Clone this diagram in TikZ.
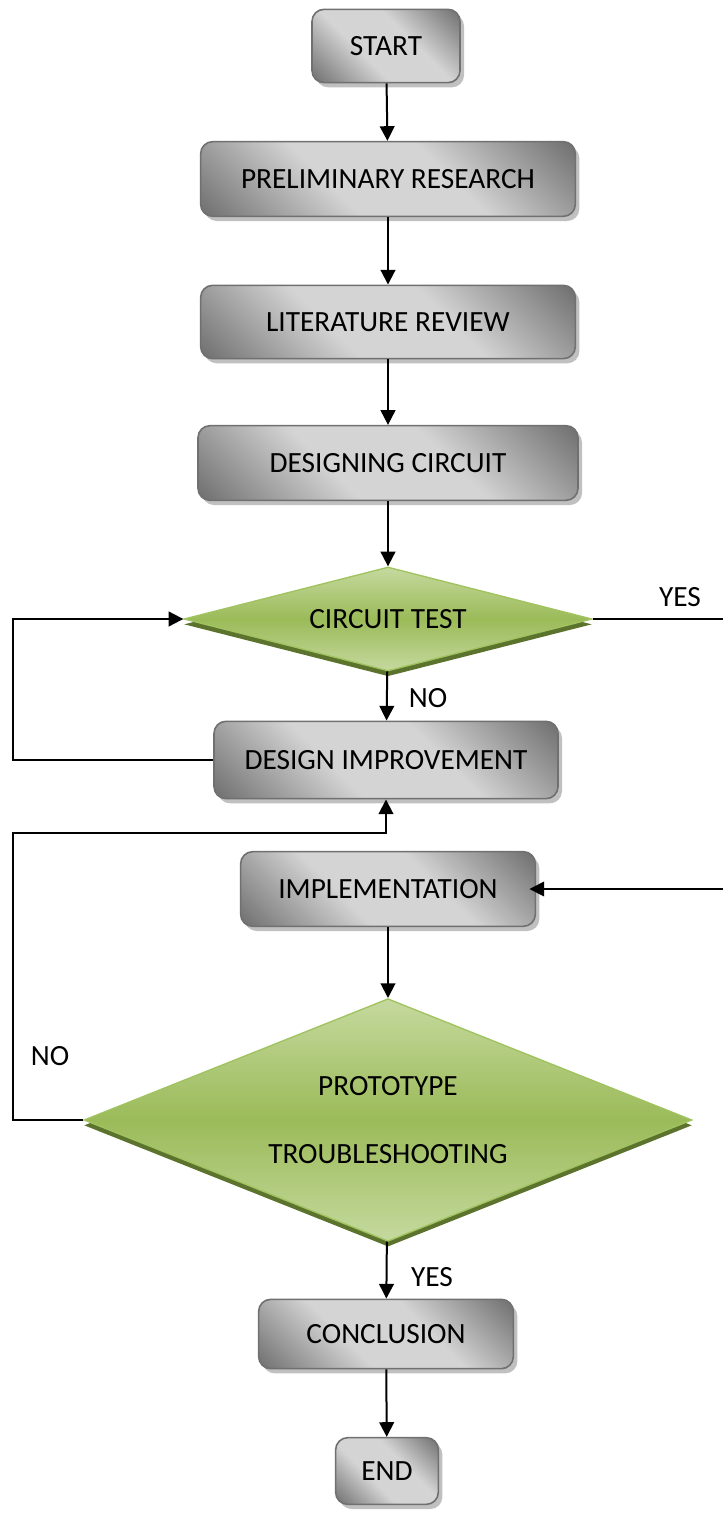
\documentclass[tikz,border=0pt]{standalone}
\usepackage{fontspec}
\setmainfont{Carlito}
\usetikzlibrary{shapes.geometric,shadows,arrows.meta,calc}
\definecolor{boxdark}{RGB}{100,100,100}
\definecolor{boxlight}{RGB}{212,212,212}
\definecolor{boxline}{RGB}{112,112,112}
\definecolor{boxshadow}{RGB}{192,192,192}
\definecolor{leafdark}{RGB}{155,187,89}
\definecolor{leaflight}{RGB}{197,217,158}
\definecolor{leafline}{RGB}{160,195,95}
\definecolor{leafshadow}{RGB}{92,115,45}
\pgfdeclarehorizontalshading{steel}{100bp}{color(0bp)=(boxdark); color(12bp)=(boxdark);
  color(40bp)=(boxlight); color(60bp)=(boxlight); color(88bp)=(boxdark); color(100bp)=(boxdark)}
\tikzset{
  style process/.style={
    rectangle, rounded corners=9pt,
    draw=boxline, line width=1.2pt,
    shading=steel, shading angle=45,
    drop shadow={shadow xshift=3pt, shadow yshift=-3.5pt, fill=boxshadow, opacity=1},
    font=\fontsize{22}{26}\selectfont, inner sep=0pt,
    #1
  },
  style decision/.style={
    diamond, inner sep=0pt, aspect=3,
    draw=leafline, line width=1pt,
    top color=leaflight, bottom color=leaflight, middle color=leafdark,
    drop shadow={shadow xshift=0pt, shadow yshift=-4pt, fill=leafshadow, opacity=1},
    font=\fontsize{22}{26}\selectfont,
    #1
  },
  flow/.style={line width=1.5pt, -{Triangle[length=11pt,width=11pt]}},
  tag/.style={font=\fontsize{22}{26}\selectfont, inner sep=0pt}
}
\begin{document}
\begin{tikzpicture}[x=0.75pt,y=0.75pt,yscale=-1,xscale=1]
\useasboundingbox (0,0) rectangle (723,1513);
\clip (0,0) rectangle (723,1513);

%Shape: process boxes
\node [style process={minimum width=111pt, minimum height=55pt}] (start) at (386,46) {START};
\node [style process={minimum width=281pt, minimum height=56pt}] (prelim) at (388,179) {PRELIMINARY RESEARCH};
\node [style process={minimum width=281pt, minimum height=55pt}] (review) at (388,322) {LITERATURE REVIEW};
\node [style process={minimum width=285pt, minimum height=56pt}] (design) at (388,463) {DESIGNING CIRCUIT};
%Shape: first decision
\node [style decision={minimum width=306pt, minimum height=78pt}] (test) at (388,619) {CIRCUIT TEST};
\node [style process={minimum width=258pt, minimum height=58pt}] (improve) at (386,760) {DESIGN IMPROVEMENT};
\node [style process={minimum width=221pt, minimum height=56pt}] (implement) at (388,889) {IMPLEMENTATION};
%Shape: second decision
\node [style decision={minimum width=456pt, minimum height=182pt}, align=center] (proto) at (388,1120)
  {PROTOTYPE\\[25pt]TROUBLESHOOTING};
\node [style process={minimum width=191pt, minimum height=52pt}] (conclude) at (386,1334) {CONCLUSION};
\node [style process={minimum width=77pt, minimum height=50pt}] (finish) at (387,1471) {END};

%Rails for the loops
\coordinate (left rail) at (13,0);
\coordinate (right rail) at (740,0);

%Straight connectors
\draw [flow] (start) -- (prelim);
\draw [flow] (prelim) -- (review);
\draw [flow] (review) -- (design);
\draw [flow] (design) -- (test);
\draw [flow] (test) -- (improve);
\draw [flow] (implement) -- (proto);
\draw [flow] (proto) -- (conclude);
\draw [flow] (conclude) -- (finish);

%Loop lines
\draw [flow] (improve.west) -- (improve.west -| left rail) |- (test.west);
\draw [flow] (proto.west) -- (proto.west -| left rail) |- ($(improve.south)+(0,34)$) -- (improve.south);
\draw [flow, line width=1.2pt] (test.east) -- (test.east -| right rail) |- ([xshift=-5pt]implement.east);

% Text Node
\node [tag] (yes top) at (680,597) {YES};
% Text Node
\node [tag] (no top) at (428,698) {NO};
% Text Node
\node [tag] (no side) at (50,1056) {NO};
% Text Node
\node [tag] (yes low) at (432,1277) {YES};

\end{tikzpicture}
\end{document}
